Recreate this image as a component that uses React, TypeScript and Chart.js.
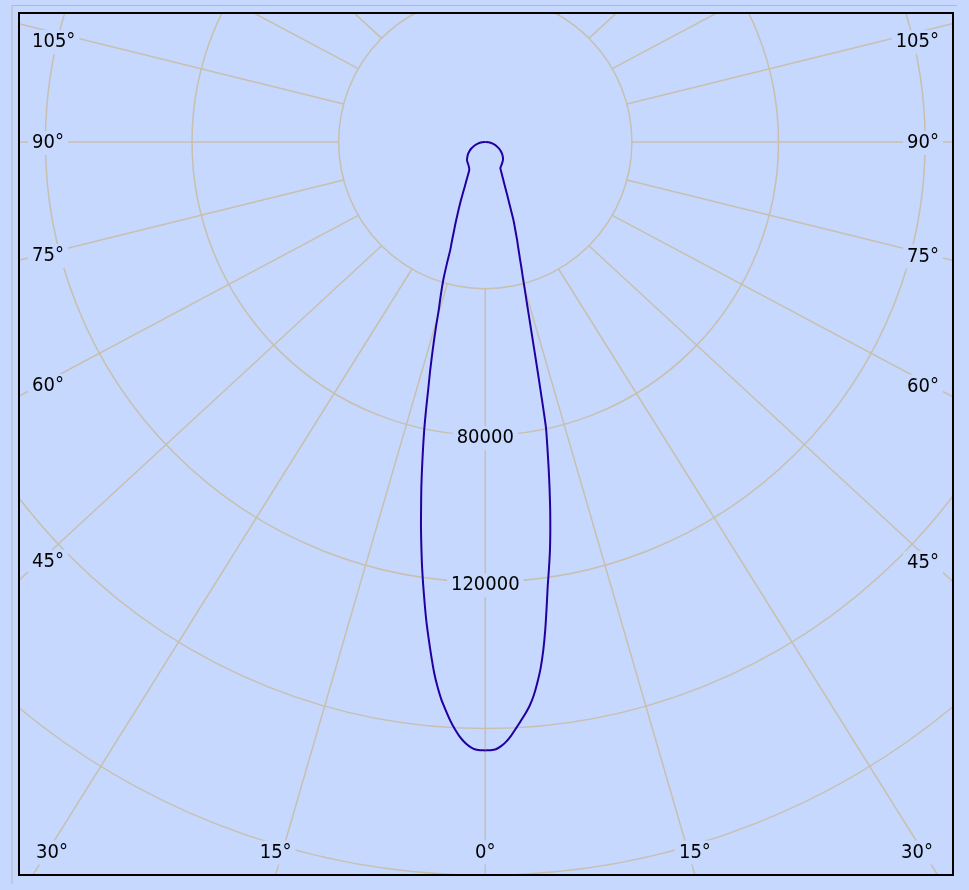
import { useEffect, useRef } from "react";
import { Chart, registerables } from "chart.js";

Chart.register(...registerables);

// Vertical angles (gamma, degrees from nadir)
const GAMMA = [
  0, 0.5, 1, 1.5, 2, 2.5, 3, 3.5, 4, 4.5, 5, 5.5, 6, 6.5, 7, 7.5, 8, 8.5, 9, 9.5, 10,
  10.5, 11, 11.5, 12, 12.5, 13, 13.5, 14, 14.5, 15, 15.5, 16, 16.5, 17, 17.5, 18, 18.5, 19, 19.5, 20,
  22.5, 25, 27.5, 30, 35, 40, 45, 50, 55, 60, 65, 70, 75, 80, 85, 90,
];
// Luminous intensity (cd), right half of the diagram
const INTENSITY_RIGHT = [
  166000, 165950, 165700, 164900, 163700, 162100, 160200, 158300, 156400, 154300, 151600,
  148200, 144400, 139700, 134200, 128200, 122400, 117600, 112800, 107500, 102000,
  96300, 90600, 85000, 79600, 70300, 62100, 55300, 49800, 45300, 41700, 38400, 35900, 33400, 31400, 29600, 28100, 26400, 24900, 23600, 22200,
  15600, 11900, 9700, 8250, 7700, 7250, 6850, 6250, 5600, 4850, 4100, 3300, 2500, 1650, 800, 0,
];
// Luminous intensity (cd), left half of the diagram
const INTENSITY_LEFT = [
  166000, 165950, 165700, 164950, 163800, 162250, 160250, 157950, 155300, 152600, 149300,
  145500, 141000, 136400, 131800, 126800, 121800, 116800, 111500, 106300, 100800,
  95700, 90300, 85100, 80000, 74500, 69100, 64600, 60100, 55800, 51600, 47400, 44600, 41800, 38800, 34800, 30800, 28900, 27000, 25300, 24000,
  17600, 13000, 10300, 8700, 7900, 7450, 7050, 6400, 5750, 5000, 4200, 3350, 2500, 1650, 800, 0,
];

const RING_VALUES = [40000, 80000, 120000, 160000, 200000];
const RING_LABELS = [80000, 120000];
const SPOKE_STEP = 15;
const ANGLE_LABELS = [0, 15, 30, 45, 60, 75, 90, 105];

const X_RANGE = [-127200, 127600];
const Y_RANGE = [-35200, 200000];

const BG = "#c6d8fd";
const GRID = "#c8bfae";
const CURVE = "#2200a0";
const FONT = "20px 'DejaVu Sans Condensed', 'DejaVu Sans', sans-serif";

const toRad = (d: number) => (d * Math.PI) / 180;

function labelBox(ctx: CanvasRenderingContext2D, text: string, cx: number, cy: number) {
  const w = ctx.measureText(text).width;
  ctx.fillStyle = BG;
  ctx.fillRect(cx - w / 2 - 4, cy - 12, w + 8, 24);
  ctx.fillStyle = "#000";
  ctx.fillText(text, cx, cy);
}

const polarGrid = {
  id: "polarGrid",
  beforeDatasetsDraw(chart: any) {
    const { ctx, chartArea: a, scales } = chart;
    const xs = scales.x;
    const ys = scales.y;
    const cx = xs.getPixelForValue(0);
    const cy = ys.getPixelForValue(0);
    const pxPerCd = xs.getPixelForValue(100000) - cx;
    const k = a.height / a.width;

    ctx.save();
    ctx.fillStyle = BG;
    ctx.fillRect(a.left, a.top, a.width, a.height);
    ctx.beginPath();
    ctx.rect(a.left, a.top, a.width, a.height);
    ctx.clip();

    ctx.strokeStyle = GRID;
    ctx.lineWidth = 1.5;
    for (const r of RING_VALUES) {
      ctx.beginPath();
      ctx.arc(cx, cy, (r / 100000) * pxPerCd, 0, Math.PI * 2);
      ctx.stroke();
    }
    const r1 = (RING_VALUES[0] / 100000) * pxPerCd;
    for (let t = 0; t < 360; t += SPOKE_STEP) {
      const s = Math.sin(toRad(t));
      const c = Math.cos(toRad(t));
      const x1 = cx + r1 * s;
      const y1 = cy + r1 * c;
      ctx.beginPath();
      ctx.moveTo(x1, y1);
      ctx.lineTo(x1 + 3000 * s, y1 + 3000 * k * c);
      ctx.stroke();
    }

    ctx.font = FONT;
    ctx.textAlign = "center";
    ctx.textBaseline = "middle";

    // intensity labels
    for (const v of RING_LABELS) {
      labelBox(ctx, String(v), cx, cy + (v / 100000) * pxPerCd + 3);
    }

    // angle labels
    for (const ang of ANGLE_LABELS) {
      for (const side of [-1, 1]) {
        if (ang === 0 && side === -1) continue;
        const s = Math.sin(toRad(ang));
        const c = Math.cos(toRad(ang));
        const x1 = cx + side * r1 * s;
        const y1 = cy + r1 * c;
        const dx = side * s;
        const dy = k * c;
        const cand: [number, string][] = [];
        if (Math.abs(dx) > 1e-9) cand.push([((side > 0 ? a.right : a.left) - x1) / dx, "side"]);
        if (dy > 1e-9) cand.push([(a.bottom - y1) / dy, "bottom"]);
        if (dy < -1e-9) cand.push([(a.top - y1) / dy, "top"]);
        cand.sort((p, q) => p[0] - q[0]);
        const hit = cand.find((p) => p[0] > 0);
        if (!hit || hit[1] === "top") continue;
        const text = `${ang}°`;
        const w = ctx.measureText(text).width;
        let lx: number;
        let ly: number;
        if (hit[1] === "bottom") {
          lx = x1 + hit[0] * dx;
          lx = Math.max(a.left + 17 + w / 2, Math.min(a.right - 20 - w / 2, lx));
          ly = a.bottom - 22.5;
        } else {
          lx = side < 0 ? a.left + 13 + w / 2 : a.right - 14 - w / 2;
          const ax = side < 0 ? a.left + 21 : a.right - 21;
          const tt = (ax - x1) / dx;
          ly = y1 + tt * dy + 1;
          ly = Math.max(a.top + 29, Math.min(a.bottom - 24, ly));
        }
        labelBox(ctx, text, lx, ly);
      }
    }
    ctx.restore();
  },
  afterDraw(chart: any) {
    const { ctx, chartArea: a } = chart;
    ctx.save();
    ctx.strokeStyle = "#b8b8b8";
    ctx.lineWidth = 1;
    ctx.beginPath();
    ctx.moveTo(a.left - 7, a.bottom + 9);
    ctx.lineTo(a.left - 7, a.top - 7.5);
    ctx.lineTo(a.right + 4, a.top - 7.5);
    ctx.stroke();
    ctx.strokeStyle = "#000";
    ctx.lineWidth = 2;
    ctx.strokeRect(a.left, a.top, a.width, a.height);
    ctx.restore();
  },
};

function toPoints(values: number[], side: number) {
  return GAMMA.map((g, i) => ({
    x: side * values[i] * Math.sin(toRad(g)),
    y: values[i] * Math.cos(toRad(g)),
  }));
}

export default function App() {
  const ref = useRef<HTMLCanvasElement>(null);
  useEffect(() => {
    const common = {
      showLine: true,
      borderColor: CURVE,
      borderWidth: 2,
      pointRadius: 0,
      tension: 0.2,
      borderJoinStyle: "round",
    };
    const chart = new Chart(ref.current as HTMLCanvasElement, {
      type: "scatter",
      data: {
        datasets: [
          { label: "C0", data: toPoints(INTENSITY_RIGHT, 1), ...common },
          { label: "C180", data: toPoints(INTENSITY_LEFT, -1), ...common },
        ],
      },
      options: {
        responsive: false,
        animation: false,
        devicePixelRatio: 1,
        layout: { padding: { left: 19, top: 13, right: 16, bottom: 15 } },
        plugins: { legend: { display: false }, tooltip: { enabled: false } },
        scales: {
          x: { type: "linear", min: X_RANGE[0], max: X_RANGE[1], display: false },
          y: { type: "linear", reverse: true, min: Y_RANGE[0], max: Y_RANGE[1], display: false },
        },
      },
      plugins: [polarGrid],
    } as any);
    return () => chart.destroy();
  }, []);
  return (
    <div style={{ position: "fixed", left: 0, top: 0, width: 969, height: 890, background: BG }}>
      <canvas ref={ref} width={969} height={890} style={{ display: "block", width: 969, height: 890 }} />
    </div>
  );
}
